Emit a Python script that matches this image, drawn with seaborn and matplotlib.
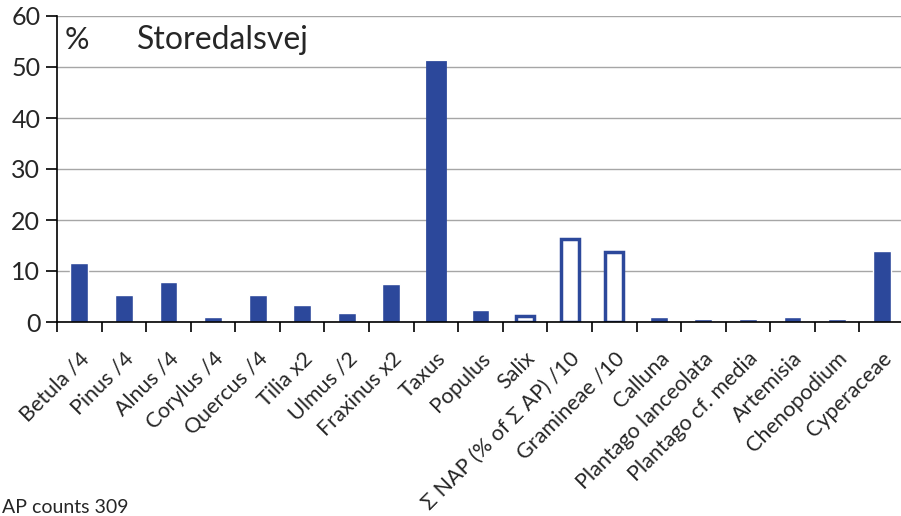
import pandas as pd
import seaborn as sns
import matplotlib.pyplot as plt

# pollen percentages, Storedalsvej
taxa = ['Betula /4', 'Pinus /4', 'Alnus /4', 'Corylus /4', 'Quercus /4', 'Tilia x2',
        'Ulmus /2', 'Fraxinus x2', 'Taxus', 'Populus', 'Salix', 'Σ NAP (% of Σ AP) /10',
        'Gramineae /10', 'Calluna', 'Plantago lanceolata', 'Plantago cf. media',
        'Artemisia', 'Chenopodium', 'Cyperaceae']
percent = [11.5, 5.2, 7.8, 1.0, 5.2, 3.4, 1.8, 7.4, 51.0, 2.3, 1.2, 16.3,
           13.8, 1.0, 0.5, 0.5, 1.0, 0.5, 14.0]
hollow = ['Salix', 'Σ NAP (% of Σ AP) /10', 'Gramineae /10']

df = pd.DataFrame({'taxon': taxa, 'pct': percent})

blue = '#2C489B'
sns.set_style('white')
plt.rcParams['font.family'] = ['Lato', 'DejaVu Sans']

fig = plt.figure(figsize=(9.01, 5.16), dpi=100)
ax = fig.add_axes([57 / 901, 1 - 322 / 516, 847 / 901, 306 / 516])

sns.barplot(data=df, x='taxon', y='pct', color=blue, width=0.4, saturation=1, ax=ax)

for patch, name in zip(ax.patches, taxa):
    if name in hollow:
        patch.set_facecolor('white')
        patch.set_edgecolor(blue)
        patch.set_linewidth(2.5)
    elif name == 'Taxus':
        patch.set_edgecolor(blue)
        patch.set_linewidth(2)

ax.set_ylim(0, 60)
ax.set_xlim(-0.5, len(taxa) - 0.5)
ax.set_yticks(range(0, 61, 10))
ax.yaxis.grid(True, color='#A6A6A6', linewidth=1)
ax.set_axisbelow(True)

for side in ['top', 'right']:
    ax.spines[side].set_visible(False)
ax.spines['left'].set_color('black')
ax.spines['bottom'].set_color('black')
ax.spines['left'].set_linewidth(1.2)
ax.spines['bottom'].set_linewidth(1.2)

# category boundaries ticks like Excel
ax.set_xticks([i - 0.5 for i in range(len(taxa))], minor=False)
ax.set_xticklabels([])
ax.set_xticks(range(len(taxa)), minor=True)
ax.set_xticklabels(taxa, minor=True, rotation=45, ha='right', rotation_mode='anchor',
                   fontsize=15.5)
ax.tick_params(axis='x', which='major', direction='out', length=7, width=1.2, color='black', bottom=True)
ax.tick_params(axis='x', which='minor', length=0, pad=19)
ax.tick_params(axis='y', direction='out', length=8, width=1.2, color='black', left=True,
               labelsize=18, pad=4)
ax.set_xlabel('')
ax.set_ylabel('')

ax.text(0.009, 0.92, '%', transform=ax.transAxes, fontsize=22, va='center')
ax.text(0.095, 0.92, 'Storedalsvej', transform=ax.transAxes, fontsize=23, va='center')

fig.text(0.002, 0.0, 'AP counts 309', fontsize=14, va='bottom')

fig.savefig('out.png', dpi=100)
